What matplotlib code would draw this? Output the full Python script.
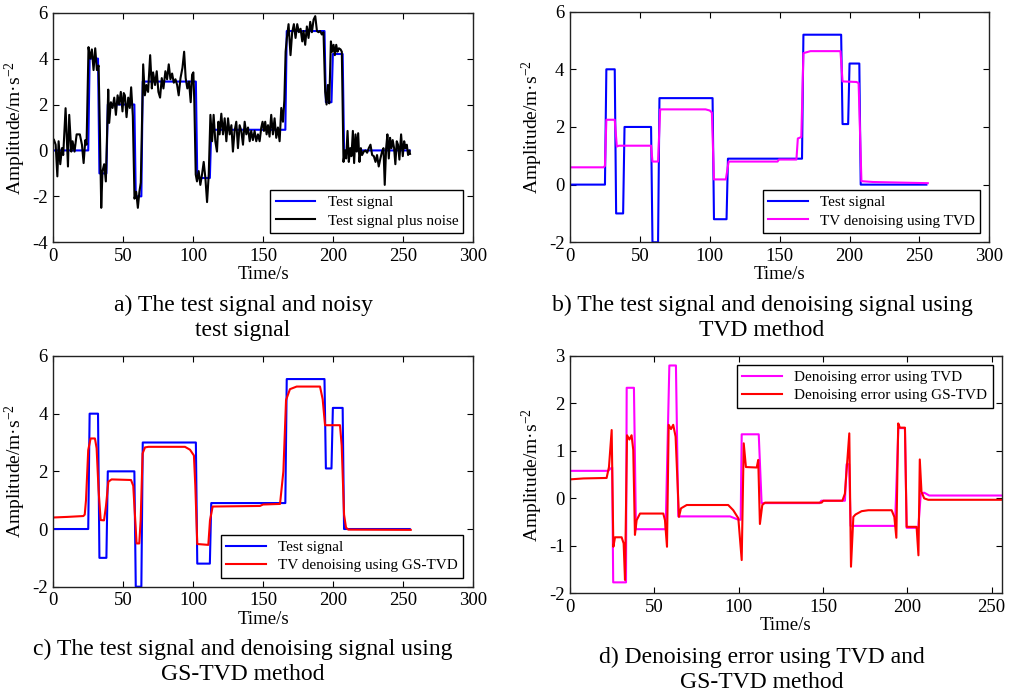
import numpy as np
import matplotlib
matplotlib.use('Agg')
import matplotlib.pyplot as plt

plt.rcParams['font.family'] = ['Liberation Serif', 'DejaVu Serif']
plt.rcParams['mathtext.fontset'] = 'custom'
plt.rcParams['mathtext.rm'] = 'Liberation Serif'
plt.rcParams['mathtext.it'] = 'Liberation Serif:italic'
plt.rcParams['axes.unicode_minus'] = False

# clean test signal (breakpoints)
test_t = [0, 25, 26, 32, 33, 38, 39, 58, 59, 63, 64, 102, 103, 112, 113, 166, 167, 194, 195, 199, 200, 207, 208, 255]
test_v = [0, 0, 4, 4, -1, -1, 2, 2, -2, -2, 3, 3, -1.2, -1.2, 0.9, 0.9, 5.2, 5.2, 2.1, 2.1, 4.2, 4.2, 0, 0]

# noisy test signal
noisy_t = [0.5, 1.7, 2.9, 3.8, 5.0, 6.2, 7.1, 8.8, 10.5, 11.4, 12.9, 13.8, 15.2, 16.7, 19.0, 20.5, 21.7, 22.9, 23.8,
           25.2, 26.4, 27.6, 28.8, 30.0, 31.2, 32.4, 33.3, 34.3, 35.2, 36.4, 37.6, 39.3, 40.0, 41.2, 42.4, 43.6, 44.8,
           46.0, 47.1, 48.3, 49.5, 50.4, 51.2, 52.4, 53.6, 54.7, 55.7, 56.9, 58.1, 59.3, 60.5, 61.6, 62.6, 64.3, 65.5,
           66.6, 67.8, 69.3, 70.5, 71.4, 72.8, 74.0, 75.2, 76.4, 77.6, 78.8, 80.2, 81.4, 82.6, 83.8, 85.0, 86.2, 87.4,
           88.6, 89.7, 91.0, 92.4, 93.6, 94.7, 95.9, 97.1, 98.3, 99.3, 100.2, 100.9, 101.9, 102.8, 104.0, 105.2, 106.4,
           107.6, 108.8, 110.0, 111.2, 112.4, 113.6, 114.7, 115.9, 117.1, 118.1, 119.0, 120.2, 121.4, 122.6, 123.8,
           125.0, 126.2, 127.4, 128.5, 129.7, 130.9, 132.1, 133.3, 134.5, 135.7, 136.9, 138.1, 139.3, 140.5, 141.6,
           142.8, 144.0, 145.2, 146.4, 147.6, 148.8, 149.7, 150.7, 151.6, 152.6, 153.6, 154.7, 155.9, 157.1, 158.3,
           159.5, 160.7, 161.9, 163.1, 164.3, 165.3, 166.2, 167.1, 168.3, 169.7, 170.9, 172.1, 173.3, 174.5, 175.7,
           176.9, 178.1, 179.0, 180.2, 181.4, 182.6, 183.8, 185.0, 186.2, 187.4, 188.6, 189.7, 190.9, 192.1, 193.3,
           194.5, 195.5, 196.4, 197.4, 198.6, 199.5, 200.5, 201.4, 202.4, 203.3, 204.3, 205.5, 206.4, 207.6, 208.6,
           209.5, 210.5, 211.4, 212.4, 213.3, 214.3, 215.2, 216.2, 217.1, 218.1, 219.0, 220.0, 220.9, 222.1, 223.3,
           224.5, 225.7, 226.9, 228.1, 229.3, 230.5, 231.6, 232.8, 234.0, 235.2, 236.2, 237.1, 238.1, 239.0, 240.0,
           240.9, 241.9, 242.8, 243.8, 244.7, 245.7, 246.6, 247.6, 248.8, 250.0, 251.0, 251.9, 252.9, 253.8, 254.7, 255.2]
noisy_v = [0.46, 0.25, -1.13, 0.4, -0.6, 0.1, -0.2, 1.84, -0.7, 1.55, -0.05, 0.4, -0.05, 0.7, 0.7, 0.25, -0.55, 0.45, 0.25,
           4.5, 4.0, 4.4, 3.5, 4.45, 3.5, 3.7, 1.0, -2.5, -0.9, -0.6, -1.35, 2.65, 1.2, 2.1, 1.85, 2.3, 1.55,
           2.4, 2.0, 2.55, 1.7, 2.5, 2.4, 1.45, 2.3, 1.85, 2.75, 1.5, -2.1, -1.8, -2.5, -1.8, -1.4, 3.75, 2.4,
           2.85, 2.55, 4.15, 2.7, 3.4, 2.85, 3.45, 2.55, 2.3, 3.15, 2.7, 3.45, 3.1, 3.75, 3.1, 3.35, 2.95, 3.1,
           2.85, 2.4, 3.15, 3.6, 4.3, 3.15, 2.7, 3.0, 2.1, 3.3, 3.4, 2.1, -1.05, -1.35, -0.9, -1.5, -1.05,
           -0.5, -1.2, -2.25, -1.05, 1.55, 0.4, 1.55, 0.4, -0.05, 1.25, 0.7, 1.6, 0.7, 1.4, 0.4,
           1.4, 0.7, 1.1, -0.05, 0.85, 1.25, 0.1, 1.1, 0.85, 0.25, 1.25, 0.7, 1.0, 0.4, 0.85,
           0.45, 0.85, 0.4, 0.7, 0.4, 1.0, 1.25, 0.85, 1.25, 0.7, 1.1, 0.6, 1.55, 0.7, 1.4,
           0.55, 1.0, 0.4, 1.85, 1.25, 2.2, 4.3, 4.9, 5.5, 4.15, 5.15, 5.5, 4.9, 5.5, 5.15,
           5.3, 4.75, 5.2, 4.6, 5.4, 4.9, 5.6, 5.15, 5.7, 5.85, 5.2, 5.15, 5.2, 5.05, 5.15,
           2.55, 2.0, 2.85, 2.05, 4.75, 4.3, 4.6, 4.15, 4.6, 4.3, 4.45, 4.4, 4.3, -0.5, 0.0,
           -0.35, 0.85, -0.5, 0.1, -0.25, 0.85, -0.55, 0.7, -0.05, 0.75, -0.5, 0.1, -0.2, -0.05, 0.0,
           -0.1, 0.1, 0.25, -0.2, -0.25, -0.5, -0.2, -0.7, -0.35, -0.05, 0.1, -1.5, 0.1, 0.7, -0.35,
           0.55, 0.1, 0.45, 0.1, -0.6, 0.4, 0.25, -0.4, 0.7, -0.25, 0.4, 0.1, 0.25, -0.2, 0.0, -0.15]

# TVD denoised signal
tvd_t = [0, 24, 25, 26, 32, 33.5, 35, 58, 59, 63, 64.5, 97, 100, 101.5, 103, 111.5, 113.5, 148.5, 149.5, 162,
         163, 165.5, 167, 172, 193.5, 195, 205, 206.5, 208.5, 217, 256]
tvd_v = [0.6, 0.6, 0.65, 2.25, 2.25, 1.32, 1.35, 1.35, 0.8, 0.8, 2.61, 2.61, 2.57, 2.5, 0.18, 0.18, 0.8, 0.8, 0.87, 0.87,
         1.6, 1.65, 4.56, 4.63, 4.63, 3.58, 3.56, 3.52, 0.12, 0.09, 0.05]

# GS-TVD denoised signal
gs_t = [0, 10, 21.5, 22.5, 23.4, 25, 26.7, 29.8, 31, 32.4, 33.9, 36.3, 37.7, 39.4, 41.7, 55.6, 57.2, 58.4, 59.6,
        61.5, 62.5, 63.9, 65.6, 68, 94.2, 97.8, 100.6, 101.6, 103, 110.9, 112.1, 114, 147.9, 150, 162.2, 164.6,
        166.5, 169.3, 174.1, 190.8, 192.7, 194.4, 205.1, 206.3, 208, 209.4, 211, 255.7]
gs_v = [0.4, 0.42, 0.45, 0.5, 1.0, 2.74, 3.14, 3.14, 2.8, 1.35, 0.31, 0.3, 0.8, 1.64, 1.72, 1.7, 1.5, 0.5, -0.5,
        -0.5, 0.3, 2.62, 2.83, 2.85, 2.85, 2.75, 2.55, 1.5, -0.52, -0.55, 0.3, 0.78, 0.8, 0.85, 0.87, 2.0,
        4.47, 4.85, 4.94, 4.94, 4.5, 3.6, 3.6, 2.9, 0.5, 0.05, -0.02, -0.03]

# denoising errors
err_tvd_t = [0, 22.7, 23.7, 25, 25.6, 33.2, 33.6, 37.9, 39.1, 56.7, 58.9, 62.8, 64.2, 94.9, 99.8, 101.2, 101.8,
             111.9, 113.6, 148, 149, 163, 164, 165.5, 166.4, 192.7, 194.7, 198.6, 199.6, 206.5, 208, 210, 213, 256]
err_tvd_v = [0.58, 0.58, 0.62, 0.65, -1.77, -1.77, 2.33, 2.33, -0.65, -0.65, 2.8, 2.8, -0.38, -0.38, -0.45, -0.45,
             1.35, 1.35, -0.1, -0.1, -0.05, -0.05, 0.72, 0.72, -0.58, -0.58, 1.48, 1.48, -0.62, -0.62, 0.1, 0.12,
             0.06, 0.06]
err_gs_t = [0, 7.9, 21.7, 23.1, 24.7, 25.7, 26.7, 30.6, 31.8, 32.6, 33.8, 35.2, 36.5, 37.5, 38.5, 39.5, 41.5,
            55.3, 56.3, 57.5, 58.5, 59.9, 61.2, 62.6, 64.6, 65.8, 69.2, 93.8, 96.8, 99.8, 101.8, 103, 104.3, 110.7,
            111.6, 112.6, 114, 115.6, 149.2, 150.2, 161.5, 163, 165.6, 166.6, 168, 169.3, 172.9, 176.9, 190.7,
            192.3, 193.5, 194.6, 195.6, 198.6, 199.6, 205.5, 206.6, 207.4, 208.4, 210, 212.4, 256]
err_gs_v = [0.4, 0.42, 0.43, 0.66, 1.44, -1.02, -0.82, -0.82, -0.95, -1.72, 1.33, 1.24, 1.33, 1.02, -0.77, -0.46,
            -0.32, -0.32, -0.46, -1.02, 1.55, 1.46, 1.55, 1.3, -0.39, -0.21, -0.14, -0.14, -0.25, -0.42, -1.3, 1.16,
            0.66, 0.65, 0.81, -0.54, -0.14, -0.09, -0.09, -0.05, -0.05, 0.1, 1.37, -1.44, -0.39, -0.34, -0.27,
            -0.25, -0.25, -0.39, -0.83, 1.58, 1.49, 1.49, -0.6, -0.6, -1.2, 0.82, 0.14, 0.0, -0.03, -0.03]

captions = ['a) The test signal and noisy\ntest signal',
            'b) The test signal and denoising signal using\nTVD method',
            'c) The test signal and denoising signal using\nGS-TVD method',
            'd) Denoising error using TVD and\nGS-TVD method']

blue = '#0000FF'
magenta = '#FF00FF'
red = '#FF0000'
lw = 1.5
fs = 13.5


def style_axes(ax, xlim, ylim, yticks, xticks):
    ax.set_xlim(xlim)
    ax.set_ylim(ylim)
    ax.set_xticks(xticks)
    ax.set_yticks(yticks)
    ax.tick_params(direction='in', top=True, right=True, length=4, width=0.8, labelsize=fs, pad=4)
    for s in ax.spines.values():
        s.set_linewidth(1.0)
        s.set_color('#222222')
    ax.set_xlabel('Time/s', fontsize=fs, labelpad=1)
    ax.set_ylabel('Amplitude/m·s$^{-2}$', fontsize=14, labelpad=3)


def add_legend(ax, loc):
    leg = ax.legend(loc=loc, fontsize=11, fancybox=False, framealpha=1, edgecolor='black',
                    handlelength=2.6, borderaxespad=0.6, borderpad=0.35, labelspacing=0.3)
    leg.get_frame().set_linewidth(1.0)


fig = plt.figure(figsize=(10.13, 6.93), dpi=100)
ax_a = fig.add_axes([0.0526, 0.6504, 0.4140, 0.3313])
ax_b = fig.add_axes([0.5627, 0.6504, 0.4139, 0.3328])
ax_c = fig.add_axes([0.0526, 0.1534, 0.4140, 0.3329])
ax_d = fig.add_axes([0.5627, 0.1439, 0.4262, 0.3424])

xt = [0, 50, 100, 150, 200, 250, 300]

ax_a.plot(test_t, test_v, color=blue, lw=lw, label='Test signal')
ax_a.plot(noisy_t, noisy_v, color='black', lw=lw, label='Test signal plus noise')
style_axes(ax_a, (0, 300), (-4, 6), [-4, -2, 0, 2, 4, 6], xt)
add_legend(ax_a, 'lower right')

ax_b.plot(test_t, test_v, color=blue, lw=lw, label='Test signal')
ax_b.plot(tvd_t, tvd_v, color=magenta, lw=lw, label='TV denoising using TVD')
style_axes(ax_b, (0, 300), (-2, 6), [-2, 0, 2, 4, 6], xt)
add_legend(ax_b, 'lower right')

ax_c.plot(test_t, test_v, color=blue, lw=lw, label='Test signal')
ax_c.plot(gs_t, gs_v, color=red, lw=lw, label='TV denoising using GS-TVD')
style_axes(ax_c, (0, 300), (-2, 6), [-2, 0, 2, 4, 6], xt)
add_legend(ax_c, 'lower right')

ax_d.plot(err_tvd_t, err_tvd_v, color=magenta, lw=lw, label='Denoising error using TVD')
ax_d.plot(err_gs_t, err_gs_v, color=red, lw=lw, label='Denoising error using GS-TVD')
style_axes(ax_d, (0, 256), (-2, 3), [-2, -1, 0, 1, 2, 3], [0, 50, 100, 150, 200, 250])
add_legend(ax_d, 'upper right')

# captions under each panel
cap_pos = [(243 / 1013, 1 - 318 / 693), (762 / 1013, 1 - 318 / 693),
           (243 / 1013, 1 - 662 / 693), (762 / 1013, 1 - 670 / 693)]
for (cx, cy), txt in zip(cap_pos, captions):
    fig.text(cx, cy, txt, ha='center', va='center', fontsize=17, linespacing=1.3)

fig.savefig('out.png', dpi=100)
